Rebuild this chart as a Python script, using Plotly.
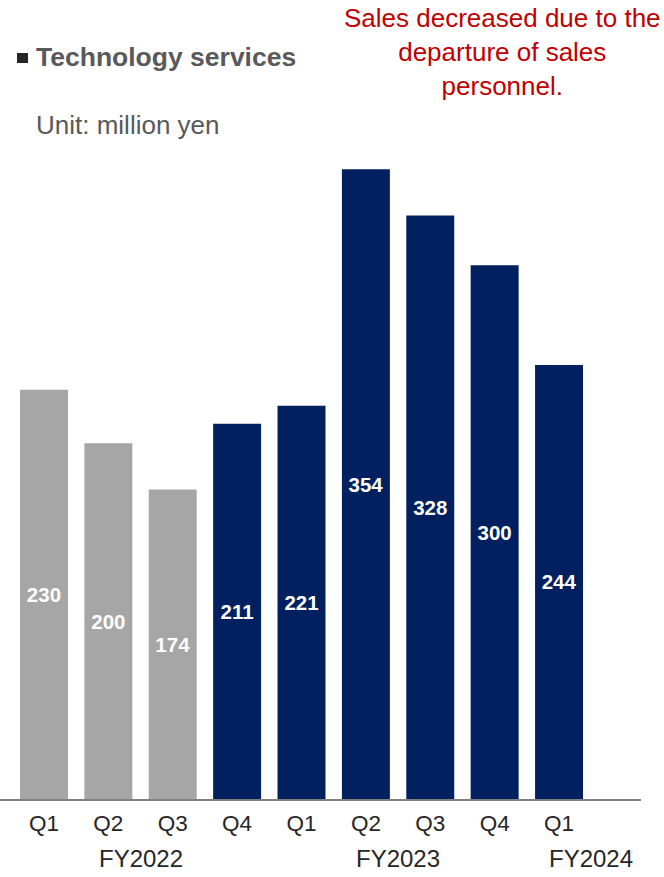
import plotly.graph_objects as go

# Quarterly sales, technology services segment (million yen)
quarters = ["Q1", "Q2", "Q3", "Q4", "Q1", "Q2", "Q3", "Q4", "Q1"]
sales = [230, 200, 174, 211, 221, 354, 328, 300, 244]
fiscal_years = ["FY2022", "FY2023", "FY2024"]
fiscal_year_pos = [1.5, 5.5, 8.5]

GRAY = "#A6A6A6"
NAVY = "#002060"
bar_colors = [GRAY] * 3 + [NAVY] * 6

FONT = "Liberation Sans, Arial, sans-serif"
x = list(range(len(sales)))

fig = go.Figure(
    go.Bar(
        x=x,
        y=sales,
        width=0.745,
        marker=dict(color=bar_colors, line=dict(width=0)),
        text=[str(v) for v in sales],
        textposition="inside",
        insidetextanchor="middle",
        textangle=0,
        insidetextfont=dict(family=FONT, size=20.5, color="white", weight="bold"),
        hoverinfo="skip",
    )
)

fig.update_layout(
    width=664,
    height=877,
    margin=dict(l=0, r=23, t=99, b=78),
    paper_bgcolor="white",
    plot_bgcolor="white",
    showlegend=False,
    font=dict(family=FONT, color="#262626"),
)

fig.update_xaxes(
    range=[-0.683, 9.273],
    tickvals=x,
    ticktext=quarters,
    tickfont=dict(family=FONT, size=22.5, color="#262626"),
    showline=True,
    linecolor="#808080",
    linewidth=1.5,
    showgrid=False,
    zeroline=False,
    ticks="",
    ticklabelstandoff=3,
)
fig.update_yaxes(
    range=[0, 393.5],
    visible=False,
    showgrid=False,
    zeroline=False,
)

annotations = []
# Fiscal-year group labels under the quarter ticks
for label, pos in zip(fiscal_years, fiscal_year_pos):
    annotations.append(
        dict(
            x=pos, y=(799 - 858) / 700, xref="x", yref="paper",
            text=label, showarrow=False,
            xanchor="center", yanchor="middle",
            font=dict(family=FONT, size=24, color="#262626"),
        )
    )

# Panel title and unit note
annotations.append(
    dict(
        x=34 / 641, y=(799 - 57) / 700, xref="paper", yref="paper",
        text="<b>Technology services</b>", showarrow=False,
        xanchor="left", yanchor="middle",
        font=dict(family=FONT, size=26.5, color="#595959"),
    )
)
annotations.append(
    dict(
        x=34 / 641, y=(799 - 125) / 700, xref="paper", yref="paper",
        text="Unit: million yen", showarrow=False,
        xanchor="left", yanchor="middle",
        font=dict(family=FONT, size=26, color="#595959"),
    )
)
# Commentary
annotations.append(
    dict(
        x=502 / 641, y=(799 - 52) / 700, xref="paper", yref="paper",
        text="Sales decreased due to the<br>departure of sales<br>personnel.",
        showarrow=False, align="center",
        xanchor="center", yanchor="middle",
        font=dict(family=FONT, size=26, color="#C00000"),
    )
)
fig.update_layout(annotations=annotations)

# Square bullet before the title
fig.add_shape(
    type="rect", xref="paper", yref="paper",
    x0=17 / 641, x1=28 / 641,
    y0=(799 - 63) / 700, y1=(799 - 53) / 700,
    fillcolor="#262626", line=dict(width=0),
)

fig.write_html("out.html")
